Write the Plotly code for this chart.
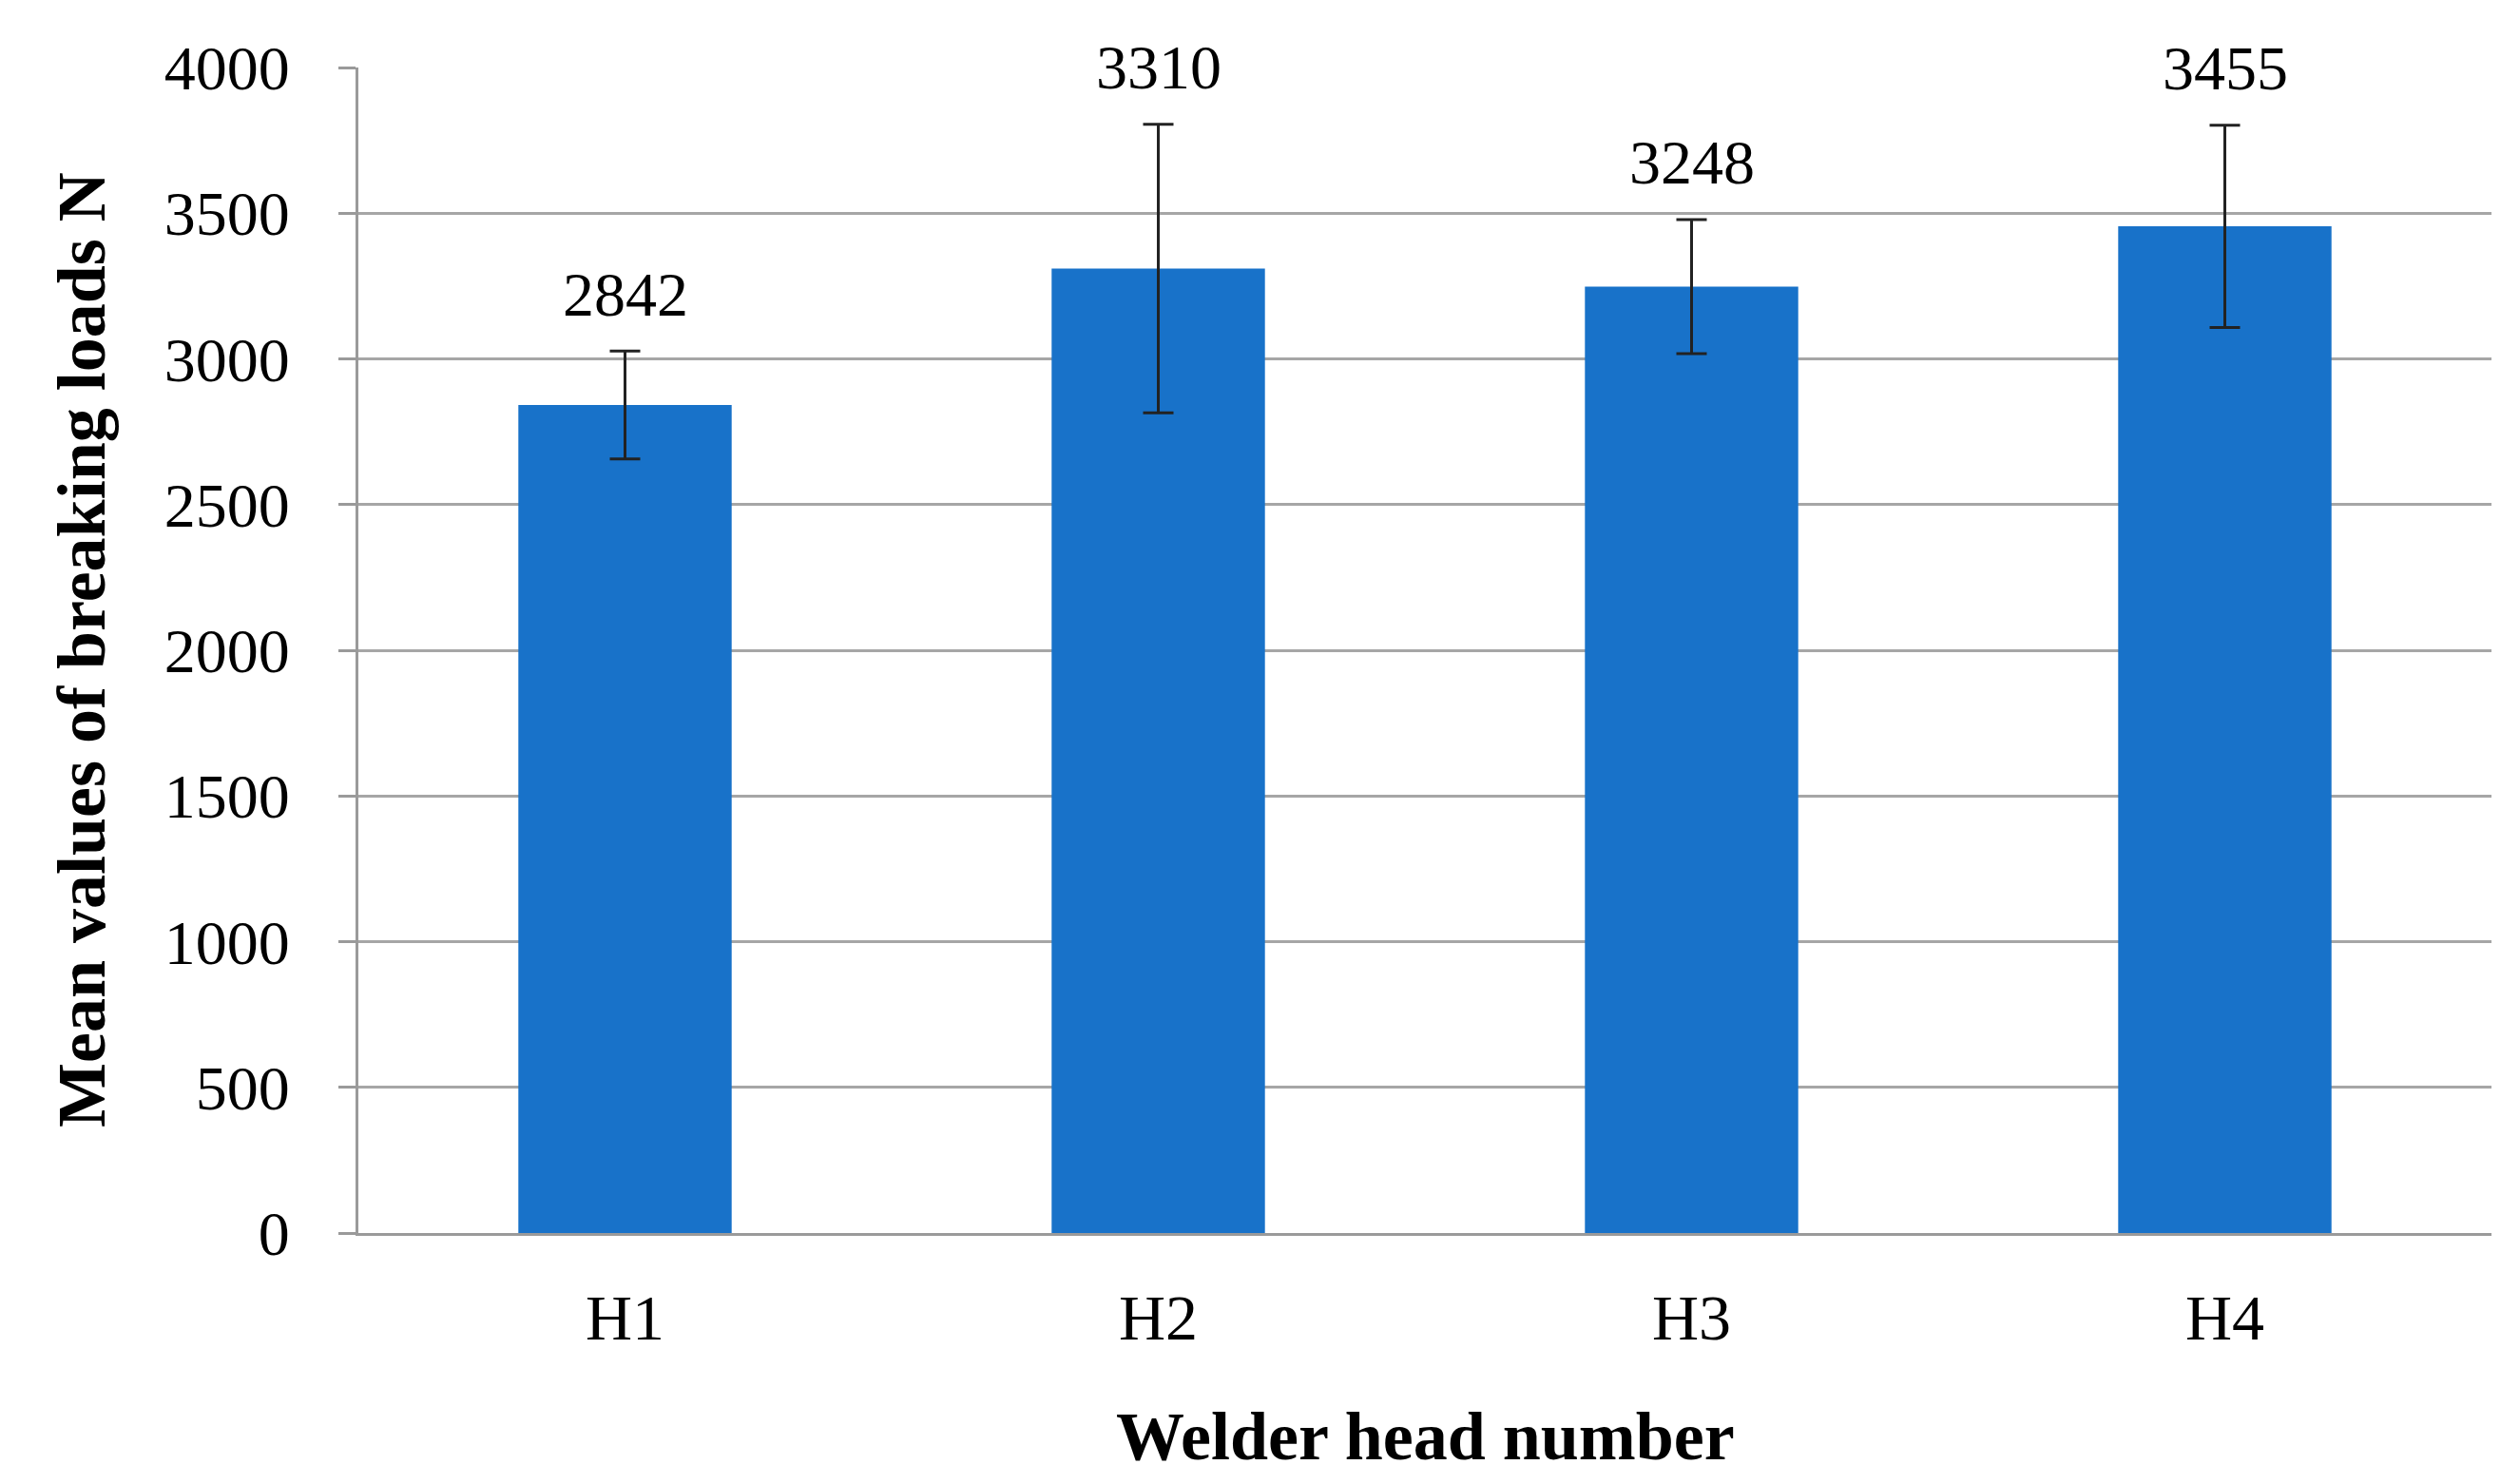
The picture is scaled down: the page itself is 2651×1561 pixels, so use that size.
import plotly.graph_objects as go

categories = ["H1", "H2", "H3", "H4"]
means = [2842, 3310, 3248, 3455]
errors = [185, 495, 230, 347]
y_ticks = [0, 500, 1000, 1500, 2000, 2500, 3000, 3500, 4000]

W, H = 2651, 1561
L, R, T, B = 369, 38, 63, 272
FONT = "Liberation Serif"

fig = go.Figure()
fig.add_trace(go.Bar(
    x=categories, y=means, width=0.4,
    marker=dict(color="#1872C9", line=dict(width=0)),
    error_y=dict(type="data", array=errors, visible=True,
                 color="#222222", thickness=3, width=16),
))

for c, m, e in zip(categories, means, errors):
    fig.add_annotation(x=c, y=m + e, text=str(m), showarrow=False,
                       xref="x", yref="y", yanchor="middle", yshift=60,
                       font=dict(family=FONT, size=66, color="#000000"))

fig.add_annotation(xref="paper", yref="paper", x=-(L - 78) / (W - L - R), y=0.5,
                   text="<b>Mean values of breaking loads N</b>", textangle=-90,
                   showarrow=False, xanchor="center", yanchor="middle",
                   font=dict(family=FONT, size=72, color="#000000"))
fig.add_annotation(xref="paper", yref="paper", x=0.5, y=-(1503 - (H - B)) / (H - T - B),
                   text="<b>Welder head number</b>", showarrow=False,
                   xanchor="center", yanchor="middle",
                   font=dict(family=FONT, size=72, color="#000000"))

fig.update_layout(
    width=W, height=H,
    margin=dict(l=L, r=R, t=T, b=B, pad=0),
    paper_bgcolor="white", plot_bgcolor="white",
    showlegend=False,
    xaxis=dict(showline=True, linecolor="#9a9a9a", linewidth=3, ticks="",
               tickfont=dict(family=FONT, size=68, color="#000000"),
               ticklabelstandoff=27, showgrid=False, zeroline=False),
    yaxis=dict(range=[0, 4000], tickvals=y_ticks, showline=True, linecolor="#9a9a9a",
               linewidth=3, ticks="outside", ticklen=18, tickwidth=3, tickcolor="#9a9a9a",
               showgrid=True, gridcolor="#a6a6a6", gridwidth=3, zeroline=False,
               tickfont=dict(family=FONT, size=66, color="#000000"),
               ticklabelstandoff=38),
)

fig.write_html("out.html")
